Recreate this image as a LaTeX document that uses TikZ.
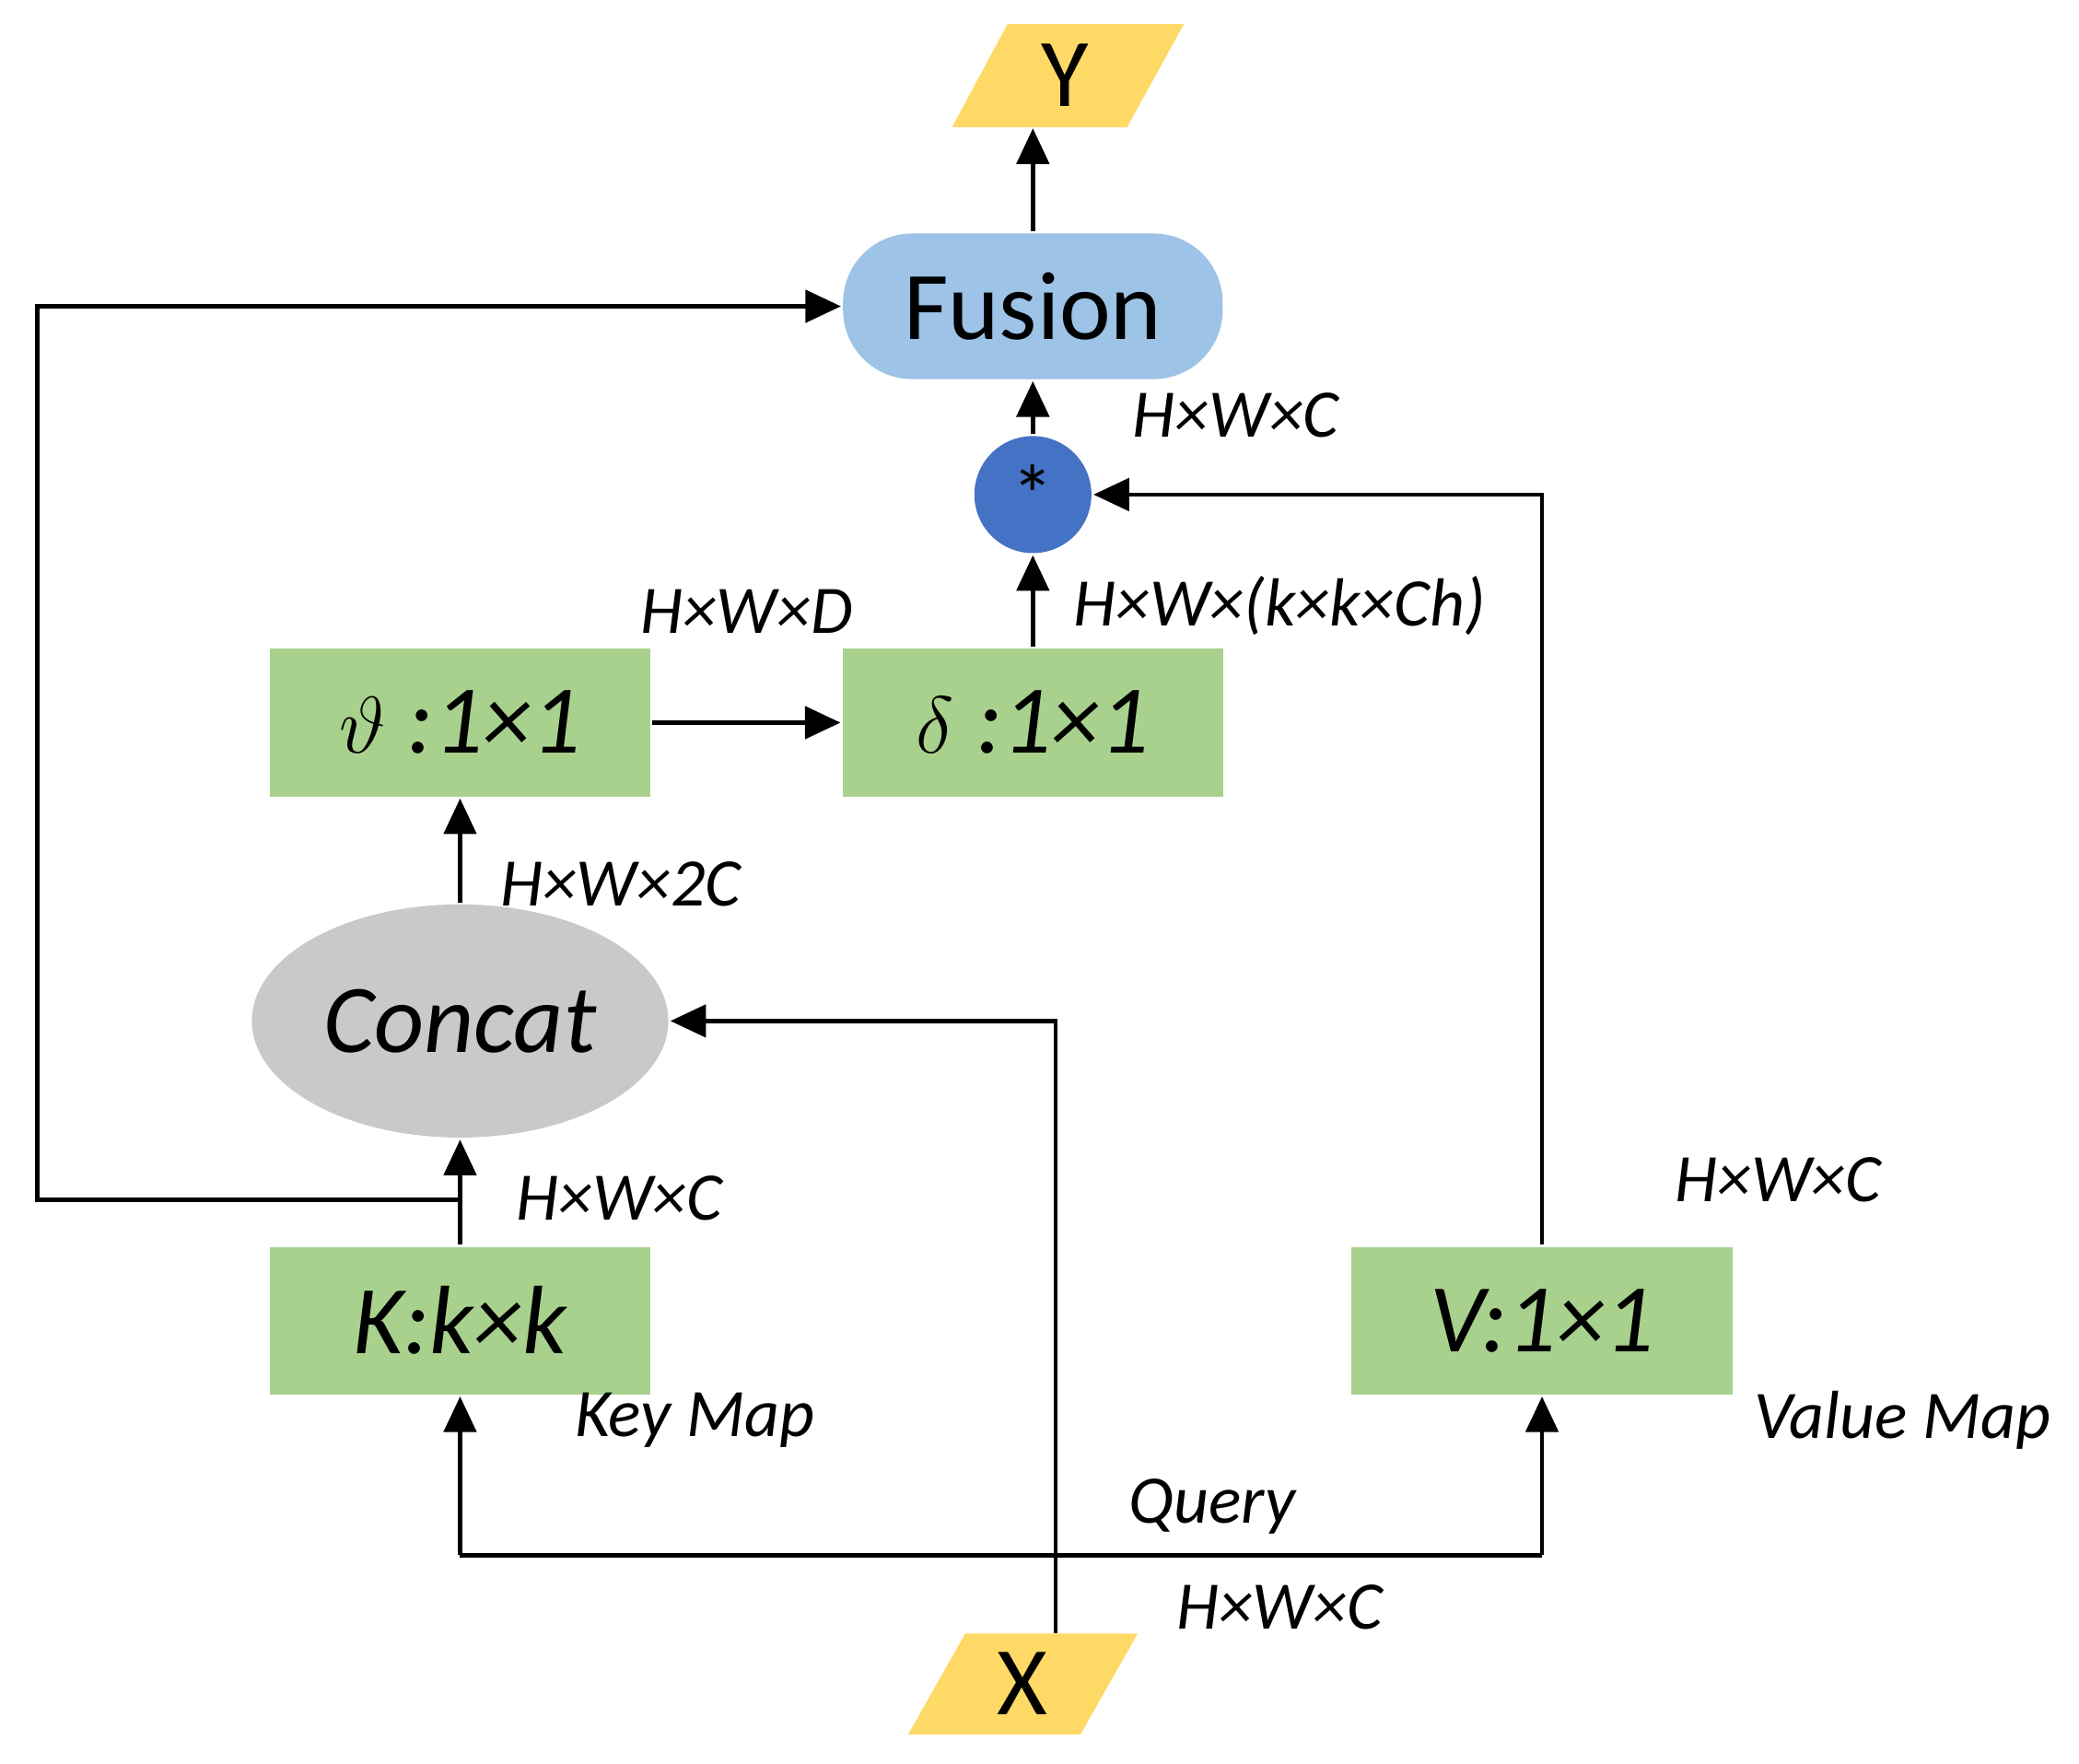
\documentclass[tikz,border=0pt]{standalone}
\usepackage{fontspec}
\setmainfont{Carlito}
\usetikzlibrary{arrows.meta,shapes.geometric,positioning}
\definecolor{boxgreen}{HTML}{A9D18E}
\definecolor{fusblue}{HTML}{9DC3E6}
\definecolor{dotblue}{HTML}{4472C4}
\definecolor{concgray}{HTML}{C9C9C9}
\definecolor{ioyellow}{HTML}{FFD966}
\begin{document}
\begin{tikzpicture}[x=0.01439cm, y=-0.01439cm,
        conv/.style  = {rectangle, fill=boxgreen, minimum width=4.13cm, minimum height=1.6cm, font=\fontsize{30}{32}\selectfont\itshape},
        fusion/.style = {rectangle, rounded corners=0.75cm, fill=fusblue, minimum width=4.12cm, minimum height=1.58cm, font=\fontsize{30}{32}\selectfont},
        mult/.style  = {circle, fill=dotblue, minimum size=1.27cm, inner sep=0pt, font=\fontsize{26}{28}\selectfont},
        concat/.style = {ellipse, fill=concgray, minimum width=3.9cm, minimum height=2.53cm, font=\fontsize{30}{32}\selectfont\itshape},
        io/.style    = {rectangle, minimum width=1.9cm, minimum height=1.1cm, font=\fontsize{30}{32}\selectfont},
        dim/.style   = {font=\fontsize{21}{23}\selectfont\itshape},
        >={Triangle[length=11pt,width=10pt]}, line width=1.3pt]

        \useasboundingbox (0,0) rectangle (1568,1330);

        % input and output
        \fill[ioyellow] (760,18) -- (893,18) -- (850,96) -- (718,96) -- cycle;
        \node[io] (y) at (803,57) {Y};
        \fill[ioyellow] (728,1232) -- (858,1232) -- (815,1308) -- (685,1308) -- cycle;
        \node[io] (x) at (771,1270) {X};

        % blocks
        \node[fusion] (fus) at (779,231) {Fusion};
        \node[mult] (mul) at (779,373) {*};
        \node[conv] (theta) at (347,545) {$\vartheta$ :1×1};
        \node[conv] (delta) at (779,545) {$\delta$ :1×1};
        \node[concat] (cat) at (347,770) {Concat};
        \node[conv] (key) at (347,996) {K:k×k};
        \node[conv] (val) at (1163,996) {V:1×1};

        % helper coordinates
        \coordinate (kt) at (347,905);
        \coordinate (xin) at (796,1232);
        \coordinate (bl) at (347,1173);
        \coordinate (br) at (1163,1173);

        % connectors
        \draw[->] (fus.north) -- (fus.north |- y.south);
        \draw[->] (mul.north) -- (fus.south);
        \draw[->] (delta.north) -- (mul.south);
        \draw[->] (theta.east) -- (delta.west);
        \draw[->] (cat.north) -- (theta.south);
        \draw[->] (key.north) -- (cat.south);
        \draw[->] (kt) -- (28,905) |- (fus.west);
        \draw[->] (xin) |- (cat.east);
        \draw (bl) -- (br);
        \draw[->] (bl) -- (key.south);
        \draw[->] (br) -- (val.south);
        \draw[->] (val.north) |- (mul.east);

        % labels
        \node[dim] at (932,313) {H×W×C};
        \node[dim] at (563,461) {H×W×D};
        \node[dim] at (965,457) {H×W×(k×k×Ch)};
        \node[dim] at (468,667) {H×W×2C};
        \node[dim] at (467,904) {H×W×C};
        \node[dim] at (1341,890) {H×W×C};
        \node[dim] at (524,1071) {Key Map};
        \node[dim] at (1435,1071) {Value Map};
        \node[dim] at (914,1136) {Query};
        \node[dim] at (965,1212) {H×W×C};
\end{tikzpicture}
\end{document}
